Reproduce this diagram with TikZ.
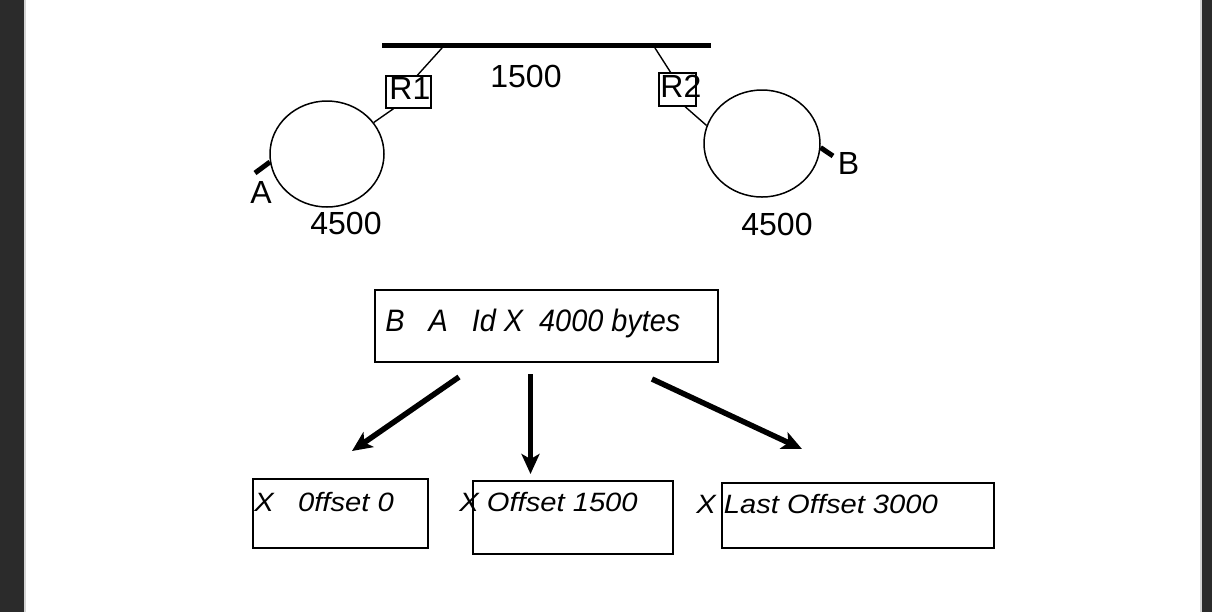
\documentclass[tikz,border=0pt]{standalone}
\usepackage{fontspec}
\usepackage{graphicx}
\setmainfont{Liberation Sans}
\usetikzlibrary{arrows.meta,shapes,positioning}
\definecolor{viewerdark}{rgb}{0.17,0.17,0.17}
\definecolor{vieweredge}{rgb}{0.83,0.83,0.83}
\newcommand{\lbl}{\fontsize{16}{19}\selectfont}
\newcommand{\ilbl}{\fontsize{15.5}{18}\selectfont\itshape}
\newcommand{\flbl}{\fontsize{13.25}{16}\selectfont\itshape}
\newcommand{\narrow}[1]{\scalebox{0.93}[1]{#1}}
\newcommand{\broad}[1]{\scalebox{1.1}[1]{#1}}

\begin{document}
\begin{tikzpicture}
    [x=0.5pt,y=-0.5pt,
    ring/.style={draw,ellipse,line width=0.75pt,inner sep=0pt},
    router/.style={draw,rectangle,line width=0.75pt,inner sep=0pt},
    pkt/.style={draw,rectangle,line width=1pt,inner sep=0pt},
    txt/.style={anchor=base west,inner sep=0pt,font=\lbl},
    itxt/.style={anchor=base west,inner sep=0pt,font=\ilbl},
    ftxt/.style={anchor=base west,inner sep=0pt,font=\flbl},
    tap/.style={line width=0.7pt},
    busline/.style={line width=2.5pt},
    hoststub/.style={line width=2.5pt},
    splitarrow/.style={line width=2.75pt,-{Stealth[length=10pt,width=9pt,inset=2.5pt]}}]
  % viewer frame round the page
  \useasboundingbox (0,0) rectangle (1212,612);
  \fill[viewerdark] (0,0) rectangle (24,612);
  \fill[vieweredge] (24,0) rectangle (26,612);
  \fill[white] (26,0) rectangle (1200,612);
  \fill[vieweredge] (1200,0) rectangle (1202,612);
  \fill[viewerdark] (1202,0) rectangle (1212,612);
  % the 1500 link
  \coordinate (busW) at (382,45.5);
  \coordinate (busE) at (711,45.5);
  \draw[busline] (busW) -- (busE);
  \coordinate (tap1) at (442,48);
  \coordinate (tap2) at (655,48);
  \node[txt] (t1500) at (490,87) {1500};
  % routers and rings
  \node[router,minimum width=22.5pt,minimum height=16pt] (r1) at (408.5,92) {};
  \node[router,minimum width=18.5pt,minimum height=16.5pt] (r2) at (677.5,89.5) {};
  \node[txt] (tr1) at (389,99) {R1};
  \node[txt] (tr2) at (660,97) {R2};
  \node[ring,minimum width=57pt,minimum height=53pt] (ringA) at (327,154) {};
  \node[ring,minimum width=58pt,minimum height=53.5pt] (ringB) at (762,143.5) {};
  \draw[tap] (tap1) -- (r1.62);
  \draw[tap] (r1.-132) -- (ringA.34);
  \draw[tap] (tap2) -- (r2.112);
  \draw[tap] (r2.-66) -- (ringB.162);
  % hosts
  \coordinate (hostA) at (255,173);
  \coordinate (hostB) at (833,156);
  \draw[hoststub] (ringA.188) -- (hostA);
  \draw[hoststub] (ringB.-4) -- (hostB);
  \node[txt] (tA) at (250,203) {A};
  \node[txt] (tB) at (837.5,174) {B};
  \node[txt] (t4500a) at (310,234) {4500};
  \node[txt] (t4500b) at (741,235) {4500};
  % datagram and its fragments
  \node[pkt,minimum width=171.5pt,minimum height=36pt] (orig) at (546.5,326) {};
  \node[itxt] (torig) at (385,331) {\narrow{B~~~A~~~Id X~~4000 bytes}};
  \node[pkt,minimum width=87.5pt,minimum height=34.5pt] (frag1) at (340.5,513.5) {};
  \node[pkt,minimum width=100pt,minimum height=36.5pt] (frag2) at (573,517.5) {};
  \node[pkt,minimum width=136pt,minimum height=32.5pt] (frag3) at (858,515.5) {};
  \node[ftxt] (tfrag1) at (254,511) {\broad{X~~~0ffset 0}};
  \node[ftxt] (tfrag2) at (459,511) {\broad{X Offset 1500}};
  \node[ftxt] (tfrag3) at (696,513) {\broad{X Last Offset 3000}};
  \draw[splitarrow] ([xshift=42.5pt,yshift=-7pt]orig.south west) -- ([xshift=5.75pt,yshift=13.5pt]frag1.north);
  \draw[splitarrow] ([xshift=-8pt,yshift=-5.5pt]orig.south) -- ([xshift=-21.25pt,yshift=3pt]frag2.north);
  \draw[splitarrow] ([xshift=-33.5pt,yshift=-8pt]orig.south east) -- ([xshift=-28pt,yshift=16.5pt]frag3.north);
\end{tikzpicture}
\end{document}
